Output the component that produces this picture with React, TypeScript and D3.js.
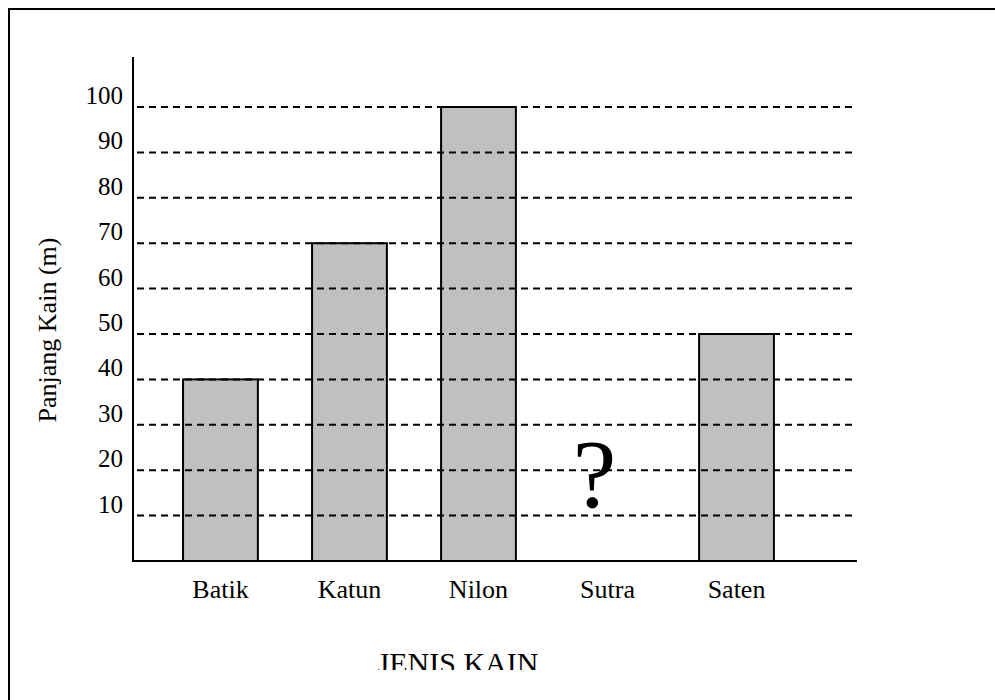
import React from "react";
import * as d3 from "d3";

const categories: string[] = ["Batik", "Katun", "Nilon", "Sutra", "Saten"];
const values: (number | null)[] = [40, 70, 100, null, 50];
const yTicks: number[] = [10, 20, 30, 40, 50, 60, 70, 80, 90, 100];
const yTitle = "Panjang Kain (m)";
const xTitle = "JENIS KAIN";
const unknownMark = "?";

const W = 995;
const H = 700;
const FONT = "'Liberation Serif', 'Times New Roman', serif";

export default function App() {
  const x0 = 133;
  const x1 = 857;
  const yBase = 561;
  const yTop = 107;

  const x = d3
    .scaleBand<string>()
    .domain(categories)
    .range([x0, x1])
    .paddingInner(0.42)
    .paddingOuter(0.516)
    .align(0.376);

  const y = d3.scaleLinear().domain([0, 100]).range([yBase, yTop]);

  return (
    <svg
      width={W}
      height={H}
      style={{ position: "absolute", left: 0, top: 0, background: "#fff" }}
      fontFamily={FONT}
    >
      <defs>
        <clipPath id="cut">
          <rect x={0} y={0} width={W} height={670} />
        </clipPath>
      </defs>
      {/* frame */}
      <rect x={9} y={9} width={W + 20} height={H + 20} fill="none" stroke="#000" strokeWidth={2} />

      {/* bars */}
      {categories.map((c, i) =>
        values[i] == null ? null : (
          <rect
            key={c}
            x={x(c)}
            y={y(values[i] as number)}
            width={x.bandwidth()}
            height={yBase - y(values[i] as number)}
            fill="#c0c0c0"
            stroke="#000"
            strokeWidth={2}
          />
        )
      )}

      {/* dashed gridlines */}
      {yTicks.map((t) => (
        <line
          key={t}
          x1={x0 + 4}
          x2={x1 - 3}
          y1={y(t)}
          y2={y(t)}
          stroke="#000"
          strokeWidth={2}
          strokeDasharray="7,5"
        />
      ))}

      {/* axes */}
      <line x1={x0} x2={x0} y1={57} y2={yBase + 1} stroke="#000" strokeWidth={2} />
      <line x1={x0} x2={x1} y1={yBase} y2={yBase} stroke="#000" strokeWidth={2} />

      {/* y tick labels */}
      {yTicks.map((t) => (
        <text key={t} x={123} y={y(t) - 3} textAnchor="end" fontSize={25} fill="#000">
          {t}
        </text>
      ))}

      {/* x labels */}
      {categories.map((c) => (
        <text
          key={c}
          x={(x(c) as number) + x.bandwidth() / 2}
          y={598}
          textAnchor="middle"
          fontSize={26}
          fill="#000"
        >
          {c}
        </text>
      ))}

      {/* unknown value */}
      {categories.map((c, i) =>
        values[i] == null ? (
          <text
            key={"q" + c}
            x={(x(c) as number) + x.bandwidth() / 2 - 13}
            y={507}
            textAnchor="middle"
            fontSize={98}
            fill="#000"
          >
            {unknownMark}
          </text>
        ) : null
      )}

      {/* axis titles */}
      <text
        transform={`translate(56, ${330}) rotate(-90)`}
        textAnchor="middle"
        fontSize={26}
        fill="#000"
      >
        {yTitle}
      </text>
      <g clipPath="url(#cut)">
        <text x={458} y={673} textAnchor="middle" fontSize={30} fill="#000">
          {xTitle}
        </text>
      </g>
    </svg>
  );
}
